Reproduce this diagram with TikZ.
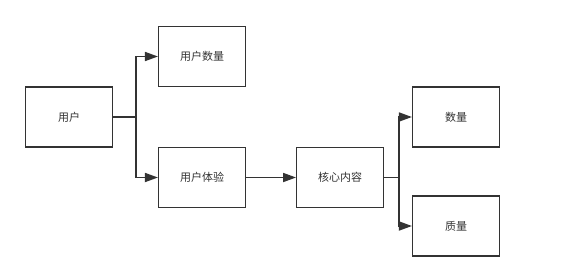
\documentclass[tikz,border=0pt]{standalone}
\usepackage{fontspec}
\newfontfamily\cjk{Noto Sans CJK SC}
\usetikzlibrary{arrows.meta, positioning}
\definecolor{linedark}{HTML}{333333}
\definecolor{textdark}{HTML}{333333}

\begin{document}
\begin{tikzpicture}[
    x=1pt, y=-1pt,
    % ── Node styles ──────────────────────────────────────────────────────
    box/.style={
        draw=linedark, fill=white, line width=1.1pt,
        minimum width=87pt, minimum height=60pt,
        font=\cjk\fontsize{11}{13}\selectfont,
        text=textdark, align=center, inner sep=2pt
    },
    % ── Arrow style ──────────────────────────────────────────────────────
    arr/.style={
        -{Triangle[length=13pt, width=9pt]},
        line width=1.7pt, color=linedark
    }
]
\useasboundingbox (0,0) rectangle (564,273);

% ═══════════════════════════════════════════════════════════════════════════
% Left part — user and its two aspects
% ═══════════════════════════════════════════════════════════════════════════
\node[box] (user) at (69,117) {用户};

\node[box] (usercount) at (202,56.5) {用户数量};
\node[box] (userexp)   at (202,177.5) {用户体验};

% Branch arrows from user
\draw[arr] (user.east) -- ++(23,0) |- (usercount.west);
\draw[arr] (user.east) -- ++(23,0) |- (userexp.west);

% ═══════════════════════════════════════════════════════════════════════════
% Right part — core content and its two aspects
% ═══════════════════════════════════════════════════════════════════════════
\node[box, right=50pt of userexp] (core) {核心内容};

\node[box] (amount)  at (456,117) {数量};
\node[box] (quality) at (456,226) {质量};

% Arrows
\draw[arr] (userexp) -- (core);
\draw[arr] (core.east) -- ++(15,0) |- (amount.west);
\draw[arr] (core.east) -- ++(15,0) |- (quality.west);

\end{tikzpicture}
\end{document}
